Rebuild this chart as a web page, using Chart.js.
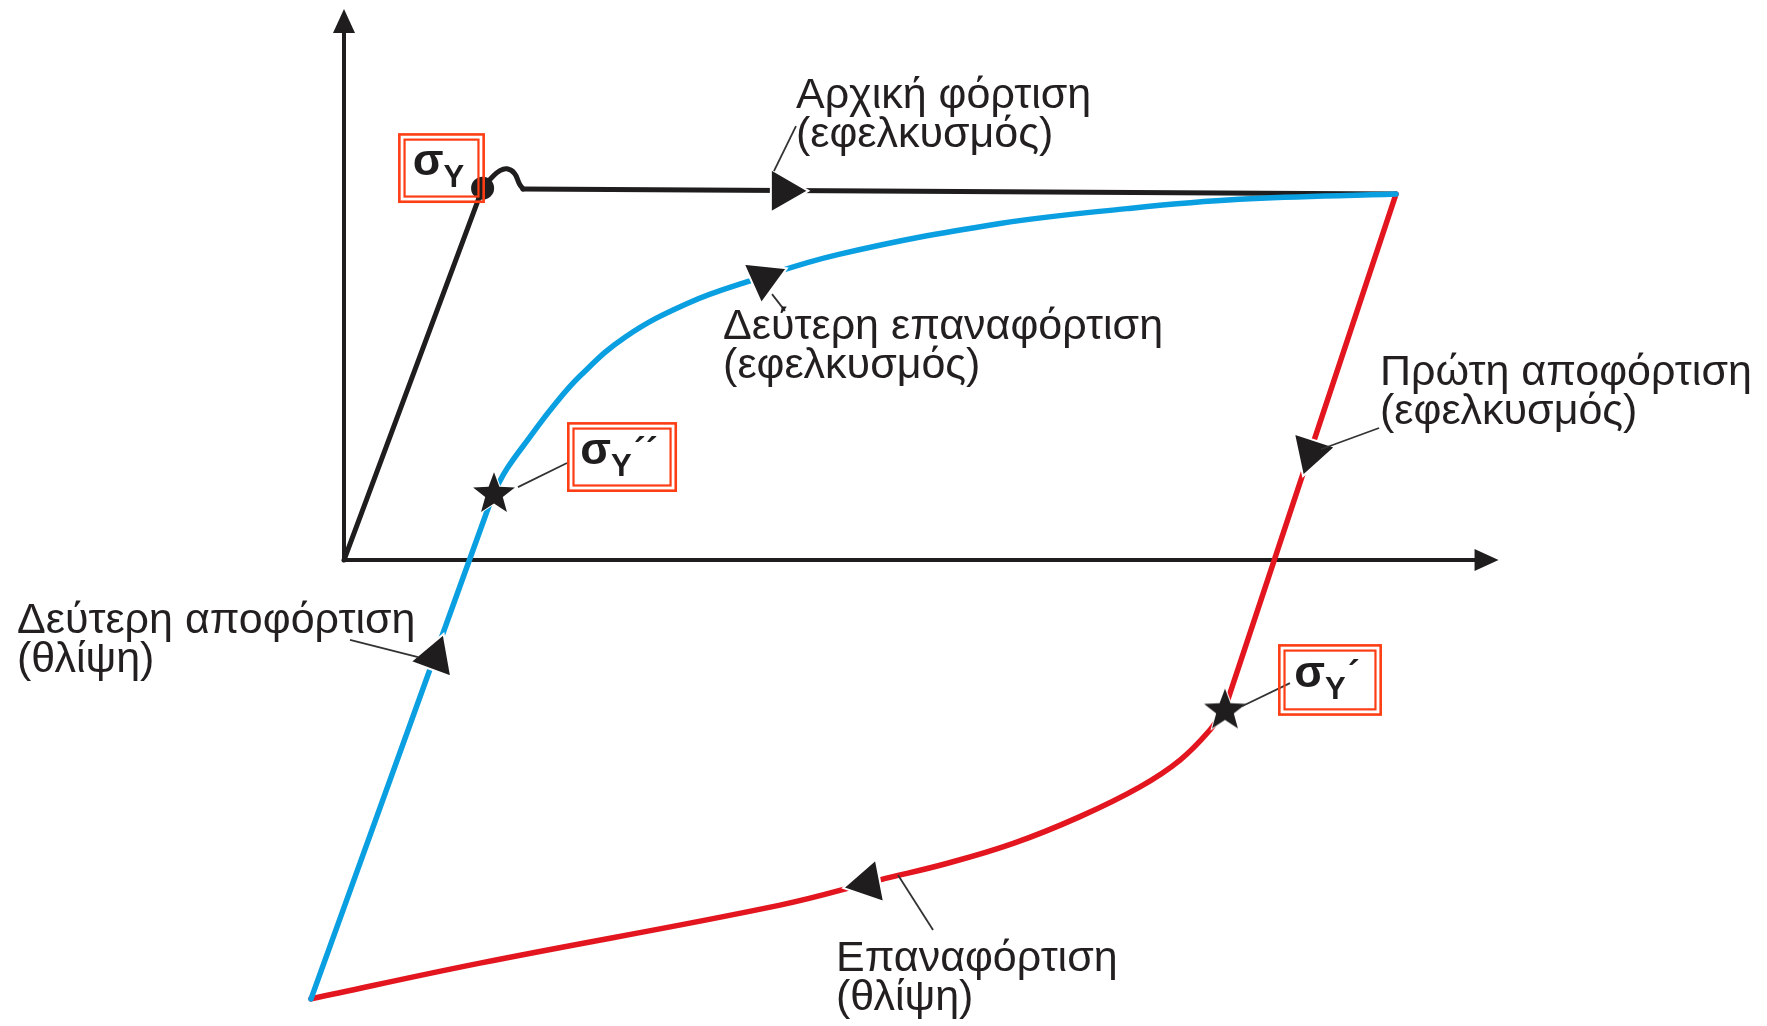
<!DOCTYPE html>
<html lang="el">
<head>
<meta charset="utf-8">
<title>Βρόχος υστέρησης</title>
<script src="https://cdn.jsdelivr.net/npm/chart.js@4.4.1/dist/chart.umd.min.js"></script>
<style>
  html, body { margin: 0; padding: 0; background: #fff; overflow: hidden; }
  #wrap { width: 1767px; height: 1026px; position: relative; }
</style>
</head>
<body>
<div id="wrap"><canvas id="loop"></canvas></div>
<script>
// strain and stress, both in units of the first yield point (σY = 1, εY = 1)
const elasticStrain = [0, 1];
const elasticStress = [0, 1];
const yieldStrain = [1, 1.07, 1.125, 1.176, 1.23, 1.265, 1.291];
const yieldStress = [1, 1.03, 1.047, 1.052, 1.04, 1.012, 0.998];
const plasticStrain = [1.291, 7.59];
const plasticStress = [0.998, 0.984];

const unload1Strain = [7.59, 6.356];
const unload1Stress = [0.984, -0.399];
const reload1Strain = [6.356, 6.248, 6.032, 5.743, 5.31, 4.829, 4.348, 3.867, 3.146, 0.981, -0.238];
const reload1Stress = [-0.399, -0.457, -0.538, -0.61, -0.69, -0.762, -0.816, -0.86, -0.928, -1.084, -1.18];

const unload2Strain = [-0.238, 1.082];
const unload2Stress = [-1.18, 0.183];
const reload2Strain = [1.082, 1.18, 1.334, 1.5, 1.706, 2.03, 2.477, 2.924, 3.57, 4.733, 5.65, 6.46, 7.59];
const reload2Stress = [0.183, 0.248, 0.327, 0.409, 0.496, 0.6, 0.69, 0.75, 0.822, 0.905, 0.945, 0.97, 0.984];

const yieldPtStrain = [1];
const yieldPtStress = [1];
const starStrain = [1.082, 6.356];   // σY΄΄ and σY΄
const starStress = [0.183, -0.399];
const arrowStrain = [3.17, 6.975, 3.778, 0.657, 3.03];
const arrowStress = [0.993, 0.29, -0.869, -0.262, 0.757];

// texts
const pathLabels = [
  ['Αρχική φόρτιση', '(εφελκυσμός)'],
  ['Δεύτερη επαναφόρτιση', '(εφελκυσμός)'],
  ['Πρώτη αποφόρτιση', '(εφελκυσμός)'],
  ['Δεύτερη αποφόρτιση', '(θλίψη)'],
  ['Επαναφόρτιση', '(θλίψη)']
];
const labelStrain = [3.261, 2.735, 7.475, -2.359, 3.55];
const labelStress = [1.215, 0.594, 0.471, -0.196, -1.105];
const boxPrimes = ['', '´´', '´'];

const pts = (xs, ys) => xs.map((x, i) => ({ x: x, y: ys[i] }));

const BLACK = '#1f1d1d';
const RED = '#e3151f';
const BLUE = '#0a9fe0';
const BOX = '#fd3d14';

function makeStar(r) {
  const s = Math.ceil(r * 2 + 6);
  const c = document.createElement('canvas');
  c.width = s; c.height = s;
  const g = c.getContext('2d');
  g.translate(s / 2, s / 2 + r * 0.1);
  g.beginPath();
  for (let i = 0; i < 10; i++) {
    const rr = i % 2 ? r * 0.42 : r;
    const a = -Math.PI / 2 + i * Math.PI / 5;
    g.lineTo(rr * Math.cos(a), rr * Math.sin(a));
  }
  g.closePath();
  g.lineWidth = 2;
  g.strokeStyle = '#fff';
  g.stroke();
  g.fillStyle = BLACK;
  g.fill();
  return c;
}

const lineSet = (data, color, width, order, tension) => ({
  data: data,
  showLine: true,
  borderColor: color,
  borderWidth: width,
  borderCapStyle: 'round',
  borderJoinStyle: 'round',
  pointRadius: 0,
  tension: tension,
  order: order
});

const diagram = {
  id: 'diagram',
  beforeDraw(chart) {
    const c = chart.ctx;
    c.save();
    c.fillStyle = '#fff';
    c.fillRect(0, 0, chart.width, chart.height);
    c.restore();
  },
  beforeDatasetsDraw(chart) {
    const c = chart.ctx, sx = chart.scales.x, sy = chart.scales.y;
    const ox = sx.getPixelForValue(0), oy = sy.getPixelForValue(0);
    const xEnd = sx.getPixelForValue(8.33), yEnd = sy.getPixelForValue(1.482);
    const head = 24, half = 11;
    c.save();
    c.strokeStyle = BLACK;
    c.fillStyle = BLACK;
    c.lineWidth = 4;
    c.beginPath();
    c.moveTo(ox, oy); c.lineTo(xEnd - head + 2, oy);
    c.moveTo(ox, oy); c.lineTo(ox, yEnd + head - 2);
    c.stroke();
    c.beginPath();
    c.moveTo(xEnd, oy); c.lineTo(xEnd - head, oy - half); c.lineTo(xEnd - head, oy + half);
    c.closePath(); c.fill();
    c.beginPath();
    c.moveTo(ox, yEnd); c.lineTo(ox - half, yEnd + head); c.lineTo(ox + half, yEnd + head);
    c.closePath(); c.fill();
    c.restore();
  },
  afterDatasetsDraw(chart) {
    const c = chart.ctx, sx = chart.scales.x, sy = chart.scales.y;
    const X = v => sx.getPixelForValue(v), Y = v => sy.getPixelForValue(v);
    c.save();

    // leader lines
    const leaders = [
      [3.261, 1.167, 3.102, 1.046],
      [3.088, 0.715, 3.182, 0.67],
      [7.468, 0.355, 7.049, 0.298],
      [0.043, -0.215, 0.534, -0.261],
      [3.997, -0.847, 4.25, -0.995],
      [1.255, 0.196, 1.609, 0.261],
      [6.479, -0.393, 6.825, -0.331]
    ];
    c.strokeStyle = '#333';
    c.lineWidth = 1.8;
    leaders.forEach(l => {
      c.beginPath();
      c.moveTo(X(l[0]), Y(l[1]));
      c.lineTo(X(l[2]), Y(l[3]));
      c.stroke();
    });

    // double framed σ labels
    const boxes = [
      [0.39, 1.148, 1.017, 0.96],
      [1.609, 0.371, 2.403, 0.183],
      [6.739, -0.226, 7.489, -0.419]
    ];
    const fS = 'bold 45px "Liberation Sans", Arial, sans-serif';
    const fY = 'bold 31px "Liberation Sans", Arial, sans-serif';
    const fP = 'bold 36px "Liberation Sans", Arial, sans-serif';
    boxes.forEach((b, i) => {
      const x1 = X(b[0]), y1 = Y(b[1]), x2 = X(b[2]), y2 = Y(b[3]);
      c.strokeStyle = BOX;
      c.lineWidth = 2.6;
      c.strokeRect(x1 + 1.3, y1 + 1.3, x2 - x1 - 2.6, y2 - y1 - 2.6);
      c.lineWidth = 2.2;
      c.strokeRect(x1 + 6.5, y1 + 6.5, x2 - x1 - 13, y2 - y1 - 13);

      const cx = (x1 + x2) / 2, cy = (y1 + y2) / 2;
      c.fillStyle = BLACK;
      c.textBaseline = 'alphabetic';
      c.textAlign = 'left';
      c.font = fS;
      const wS = c.measureText('σ').width;
      c.font = fY;
      const wY = c.measureText('Y').width;
      c.font = fP;
      const wP = boxPrimes[i] ? c.measureText(boxPrimes[i]).width + 2 : 0;
      let x = cx - (wS + wY + wP) / 2 - 3;
      c.font = fS;
      c.fillText('σ', x, cy + 7);
      x += wS;
      c.font = fY;
      c.fillText('Y', x, cy + 19);
      x += wY + 2;
      if (boxPrimes[i]) {
        c.font = fP;
        c.fillText(boxPrimes[i], x, cy + 6);
      }
    });

    // path names
    c.fillStyle = '#231f20';
    c.font = '43px "Liberation Sans", Arial, sans-serif';
    c.textAlign = 'left';
    c.textBaseline = 'alphabetic';
    pathLabels.forEach((lines, i) => {
      lines.forEach((t, k) => c.fillText(t, X(labelStrain[i]), Y(labelStress[i]) + k * 39));
    });
    c.restore();
  }
};

new Chart(document.getElementById('loop'), {
  type: 'scatter',
  data: {
    datasets: [
      {
        data: pts(arrowStrain, arrowStress),
        pointStyle: 'triangle',
        pointRadius: 25,
        pointRotation: [90, 198, 259, 20, 66],
        pointBackgroundColor: BLACK,
        pointBorderColor: '#fff',
        pointBorderWidth: 2,
        order: 0
      },
      {
        data: pts(starStrain, starStress),
        pointStyle: makeStar(22),
        pointRadius: 22,
        order: 0
      },
      {
        data: pts(yieldPtStrain, yieldPtStress),
        pointStyle: 'circle',
        pointRadius: 11.5,
        pointBackgroundColor: BLACK,
        pointBorderWidth: 0,
        order: 0
      },
      lineSet(pts(unload2Strain, unload2Stress), BLUE, 5.5, 1, 0),
      lineSet(pts(reload2Strain, reload2Stress), BLUE, 5.5, 1, 0.4),
      lineSet(pts(unload1Strain, unload1Stress), RED, 5.5, 2, 0),
      lineSet(pts(reload1Strain, reload1Stress), RED, 5.5, 2, 0.4),
      lineSet(pts(elasticStrain, elasticStress), BLACK, 5, 3, 0),
      lineSet(pts(yieldStrain, yieldStress), BLACK, 5, 3, 0.4),
      lineSet(pts(plasticStrain, plasticStress), BLACK, 5, 3, 0)
    ]
  },
  options: {
    responsive: true,
    maintainAspectRatio: false,
    animation: false,
    events: [],
    layout: { padding: 0, autoPadding: false },
    plugins: { legend: { display: false }, tooltip: { enabled: false } },
    scales: {
      x: { type: 'linear', min: -2.482, max: 10.267, display: false },
      y: { type: 'linear', min: -1.253, max: 1.506, display: false }
    }
  },
  plugins: [diagram]
});
</script>
</body>
</html>
